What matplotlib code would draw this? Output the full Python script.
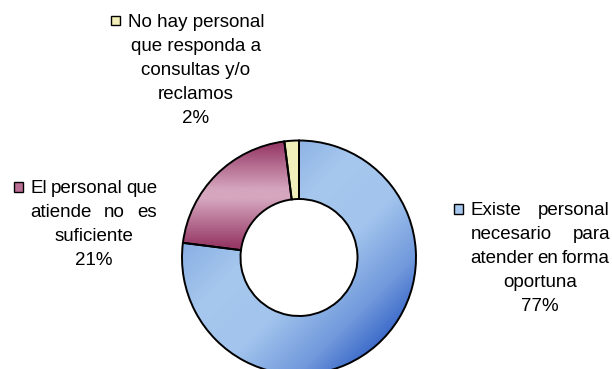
import numpy as np
import matplotlib.pyplot as plt
from matplotlib.colors import LinearSegmentedColormap
from matplotlib.patches import Rectangle

plt.rcParams['font.family'] = ['Liberation Sans', 'DejaVu Sans']

# survey answers and their shares (%)
categories = [
    "Existe personal\nnecesario para\natender en forma\noportuna",
    "El personal que\natiende no es\nsuficiente",
    "No hay personal\nque responda a\nconsultas y/o\nreclamos",
]
shares = [77, 21, 2]
swatch_colors = ["#A6C8EE", "#B96E93", "#F2F0B8"]

W, H = 612, 369
FS = 13.5

fig = plt.figure(figsize=(W / 100, H / 100), dpi=100)


def fx(x):
    return x / W


def fy(y):
    return 1 - y / H


# donut, centre (299, 257.5) px, outer radius 117 px
cx, cy, R = 299, 257.5, 117
ax = fig.add_axes([fx(cx - R), fy(cy + R), 2 * R / W, 2 * R / H])
wedges, _ = ax.pie(shares, radius=1, startangle=90, counterclock=False,
                   wedgeprops=dict(width=0.5, edgecolor="black", linewidth=1.4))

# gradient fills clipped to each wedge
X, Y = np.meshgrid(np.linspace(-1, 1, 300), np.linspace(-1, 1, 300))
u_diag = np.clip(((X - Y) / np.sqrt(2) + 1) / 2, 0, 1)
blue_cm = LinearSegmentedColormap.from_list("blue", [
    (0.0, "#7DA3DF"), (0.35, "#A6C8EE"), (0.6, "#A2C4ED"),
    (0.85, "#7199DC"), (1.0, "#3F6DCA")])
maroon_cm = LinearSegmentedColormap.from_list("maroon", [
    (0.0, "#983A67"), (0.1, "#983A67"), (0.5, "#D5A6BE"),
    (0.58, "#D5A6BE"), (0.95, "#9A3F6B"), (1.0, "#953B67")])
yellow_cm = LinearSegmentedColormap.from_list("yellow", ["#EEEBAE", "#F6F4C8"])
fills = [(u_diag, blue_cm), (np.clip(Y, 0, 1), maroon_cm), ((X + 1) / 2, yellow_cm)]

for w, (grad, cm) in zip(wedges, fills):
    w.set_facecolor("none")
    w.set_zorder(2)
    im = ax.imshow(grad, extent=(-1, 1, -1, 1), origin="lower", cmap=cm,
                   vmin=0, vmax=1, interpolation="bilinear", zorder=1)
    im.set_clip_path(w)

ax.set_xlim(-1, 1)
ax.set_ylim(-1, 1)
ax.set_aspect("equal")
ax.axis("off")

renderer = fig.canvas.get_renderer()


def put_line(text, left, right, base, justify):
    if not justify or len(text.split()) < 2:
        t = fig.text(fx((left + right) / 2), fy(base), text, ha="center",
                     va="baseline", fontsize=FS)
        ext = t.get_window_extent(renderer)
        return ext.x0
    words = text.split()
    items = [fig.text(0, fy(base), wd, ha="left", va="baseline", fontsize=FS)
             for wd in words]
    widths = [it.get_window_extent(renderer).width for it in items]
    gap = (right - left - sum(widths)) / (len(words) - 1)
    x = left
    for it, wd in zip(items, widths):
        it.set_x(fx(x))
        x += wd + gap
    return left


def put_label(text, pct, color, left, right, base, justify):
    lines = text.split("\n")
    x0 = None
    for i, line in enumerate(lines):
        j = justify and i < len(lines) - 1
        xs = put_line(line, left, right, base + 24 * i, j)
        if i == 0:
            x0 = xs
    put_line(f"{pct}%", left, right, base + 24 * len(lines), False)
    sq = Rectangle((fx(x0 - 16.5), fy(base - 1.5)), 9 / W, 9.5 / H,
                   transform=fig.transFigure, facecolor=color,
                   edgecolor="black", linewidth=1.0)
    fig.add_artist(sq)


put_label(categories[0], shares[0], swatch_colors[0], 470.6, 610, 215, True)
put_label(categories[1], shares[1], swatch_colors[1], 30.6, 157, 193, True)
put_label(categories[2], shares[2], swatch_colors[2], 129, 263, 26.7, False)

fig.savefig("out.png", dpi=100)
